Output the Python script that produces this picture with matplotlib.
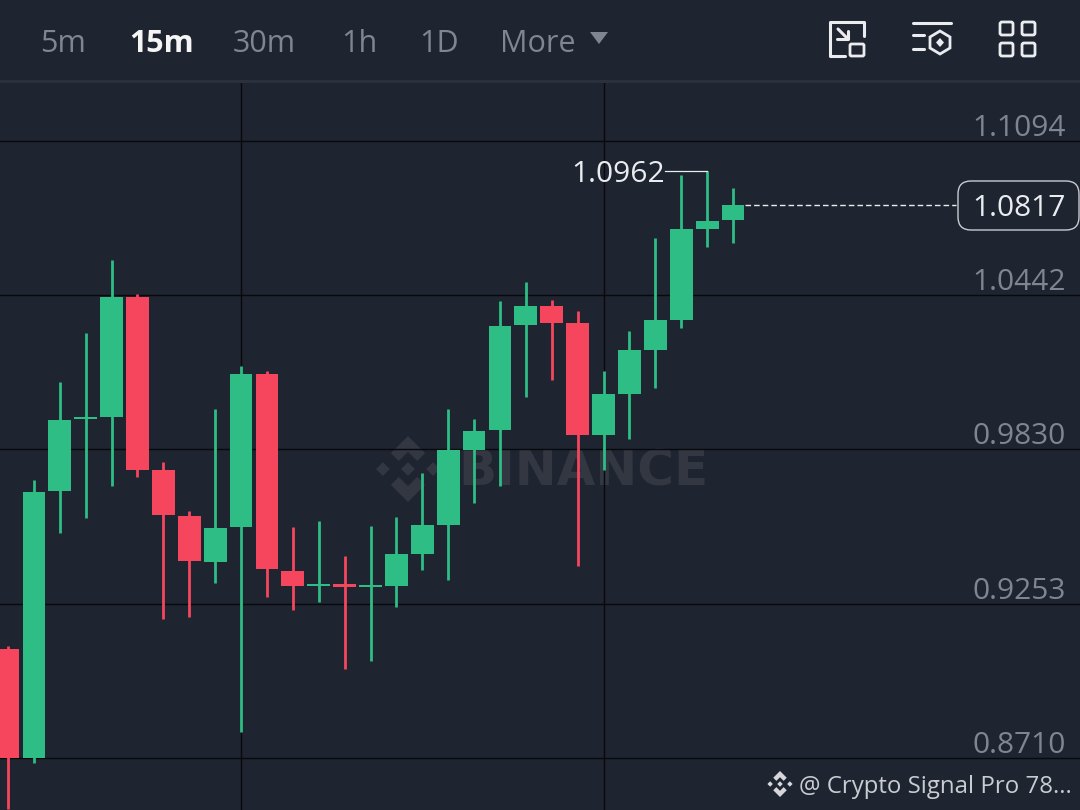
import matplotlib.pyplot as plt
from matplotlib.patches import FancyBboxPatch, Polygon, Rectangle

# ohlc, the price axis is logarithmic
opens = [0.9091, 0.8710, 0.9672, 0.9949, 0.9957, 1.0436, 0.9752, 0.9578, 0.9406, 0.9536,
         1.0126, 0.9373, 0.9318, 0.9326, 0.9315, 0.9318, 0.9436, 0.9544, 0.9828, 0.9906,
         1.0322, 1.0399, 1.0330, 0.9886, 1.0047, 1.0221, 1.0342, 1.0718, 1.0756]
closes = [0.8710, 0.9668, 0.9945, 0.9957, 1.0436, 0.9752, 0.9581, 0.9409, 0.9533, 1.0126,
          0.9380, 0.9318, 0.9326, 0.9315, 0.9322, 0.9436, 0.9544, 0.9828, 0.9902, 1.0318,
          1.0399, 1.0330, 0.9886, 1.0047, 1.0221, 1.0342, 1.0718, 1.0751, 1.0817]
highs = [0.9101, 0.9714, 1.0094, 1.0290, 1.0588, 1.0448, 0.9782, 0.9596, 0.9988, 1.0158,
         1.0138, 0.9536, 0.9559, 0.9428, 0.9540, 0.9574, 0.9740, 0.9988, 0.9949, 1.0420,
         1.0498, 1.0424, 1.0379, 1.0138, 1.0298, 1.0681, 1.0947, 1.0962, 1.0892]
lows = [0.8536, 0.8693, 0.9514, 0.9570, 0.9691, 0.9725, 0.9198, 0.9205, 0.9329, 0.8800,
        0.9278, 0.9230, 0.9260, 0.9020, 0.9048, 0.9241, 0.9376, 0.9340, 0.9626, 0.9691,
        1.0035, 1.0102, 0.9391, 0.9752, 0.9871, 1.0071, 1.0310, 1.0643, 1.0660]

price_ticks = [1.1094, 1.0442, 0.9830, 0.9253, 0.8710]
price_labels = ['1.1094', '1.0442', '0.9830', '0.9253', '0.8710']
vgrid_candles = [9, 23]
last_price = 1.0817
top_price = 1.0962
top_candle = 27

intervals = ['5m', '15m', '30m', '1h', '1D', 'More']
interval_x = [40, 129, 233, 341, 419, 500]
active_interval = '15m'

BG = '#1e2430'
GREEN = '#2ebd85'
RED = '#f6465d'
GREY = '#7f8691'
LIGHT = '#eaecef'
WATERMARK = '#323742'
FONT = 'Open Sans'

plt.rcParams['font.family'] = [FONT, 'DejaVu Sans']

fig = plt.figure(figsize=(10.8, 8.1), dpi=100, facecolor=BG)


def pixel_axes(zorder):
    a = fig.add_axes([0, 0, 1, 1], zorder=zorder)
    a.set_xlim(0, 1080)
    a.set_ylim(810, 0)
    a.axis('off')
    return a


def binance_logo(a, cx, cy, r, color):
    # small centre diamond, two side diamonds, two chevrons
    s = r * 0.21
    for dx, dy in [(0, 0), (-r * 0.76, 0), (r * 0.76, 0)]:
        a.add_patch(Polygon([(cx + dx - s, cy + dy), (cx + dx, cy + dy - s),
                             (cx + dx + s, cy + dy), (cx + dx, cy + dy + s)], fc=color, ec='none'))
    for sign in [-1, 1]:
        a.add_patch(Polygon([(cx, cy + sign * r), (cx + r * 0.52, cy + sign * r * 0.48),
                             (cx + r * 0.28, cy + sign * r * 0.24), (cx, cy + sign * r * 0.52),
                             (cx - r * 0.28, cy + sign * r * 0.24), (cx - r * 0.52, cy + sign * r * 0.48)],
                            fc=color, ec='none'))


under = pixel_axes(0)
under.text(458, 472, 'BINANCE', color=WATERMARK, fontsize=36, fontweight='bold', va='center',
           family='DejaVu Sans')
binance_logo(under, 408, 469, 33, WATERMARK)

# price chart, y axis log so the grid comes out evenly spaced
ax = fig.add_axes([0, 0, 1, 727 / 810], zorder=1)
ax.patch.set_alpha(0)
ax.set_yscale('log')
ax.set_xlim(-0.309, 41.4)
ax.set_ylim(0.8534, 1.1349)
ax.axis('off')

for p, lab in zip(price_ticks, price_labels):
    ax.axhline(p, color='#07090d', lw=1.0, zorder=1)
    ax.annotate(lab, (1, p), xycoords=ax.get_yaxis_transform(), xytext=(-14, 5),
                textcoords='offset pixels', ha='right', va='baseline', color=GREY, fontsize=21.5)
for c in vgrid_candles:
    ax.axvline(c, color='#07090d', lw=1.0, zorder=1)

for i in range(len(opens)):
    col = GREEN if closes[i] >= opens[i] else RED
    ax.vlines(i, lows[i], highs[i], color=col, lw=2.0, zorder=2)
    ax.bar(i, abs(closes[i] - opens[i]), bottom=min(opens[i], closes[i]), width=0.88,
           color=col, zorder=3)

ax.plot([len(opens) - 0.55, 36.6], [last_price, last_price], color=LIGHT, lw=1.0,
        dashes=(4, 2.2), zorder=2)
ax.plot([25.38, top_candle], [top_price, top_price], color=LIGHT, lw=0.9, zorder=2)
ax.annotate('1.0962', (25.38, top_price), xytext=(0, 0), textcoords='offset pixels',
            ha='right', va='center_baseline', color=LIGHT, fontsize=21.5)

over = pixel_axes(2)
over.add_patch(Rectangle((0, 80), 1080, 3, fc='#2b313c', ec='none'))

# last price box
over.add_patch(FancyBboxPatch((958, 181), 121, 49, boxstyle='round,pad=0,rounding_size=13',
                              fc=BG, ec='#c9ccd1', lw=1.0, mutation_aspect=1))
over.text(1066, 205.5, '1.0817', ha='right', va='center_baseline', color=LIGHT, fontsize=21.5)

# toolbar
for name, x in zip(intervals, interval_x):
    on = name == active_interval
    over.text(x, 40, name, ha='left', va='center_baseline', fontsize=22,
              color='#f5f5f5' if on else GREY, fontweight='bold' if on else 'normal')
over.add_patch(Polygon([(590, 32), (608, 32), (599, 44)], fc=GREY, ec='none', joinstyle='round'))

ic = dict(color=LIGHT, lw=2.2, solid_capstyle='round', solid_joinstyle='round')
over.plot([845, 830, 830, 864, 864], [56, 56, 22, 22, 36], **ic)
over.plot([838, 848], [29, 39], **ic)
over.plot([837, 848, 848], [39, 39, 31], **ic)
over.add_patch(FancyBboxPatch((850, 44), 14, 12, boxstyle='round,pad=0,rounding_size=1.5',
                              fc='none', ec=LIGHT, lw=2.0))
over.plot([913, 951], [23, 23], **ic)
over.plot([913, 924], [35, 35], **ic)
over.plot([913, 924], [49, 49], **ic)
over.add_patch(Polygon([(940, 31), (950, 37), (950, 48), (940, 54), (930, 48), (930, 37)],
                       fc='none', ec=LIGHT, lw=2.0))
over.add_patch(Polygon([(940, 38), (944, 42.5), (940, 47), (936, 42.5)], fc=LIGHT, ec='none'))
for x in [1000, 1022]:
    for y in [22, 43]:
        over.add_patch(FancyBboxPatch((x, y), 13, 13, boxstyle='round,pad=0,rounding_size=2',
                                      fc='none', ec=LIGHT, lw=2.0))

# credit, bottom right
binance_logo(over, 780, 784, 13, '#d5d7db')
over.text(799, 784, '@ Crypto Signal Pro 78...', ha='left', va='center_baseline',
          color='#c9ccd1', fontsize=17.3)

fig.savefig('out.png', dpi=100, facecolor=BG)
